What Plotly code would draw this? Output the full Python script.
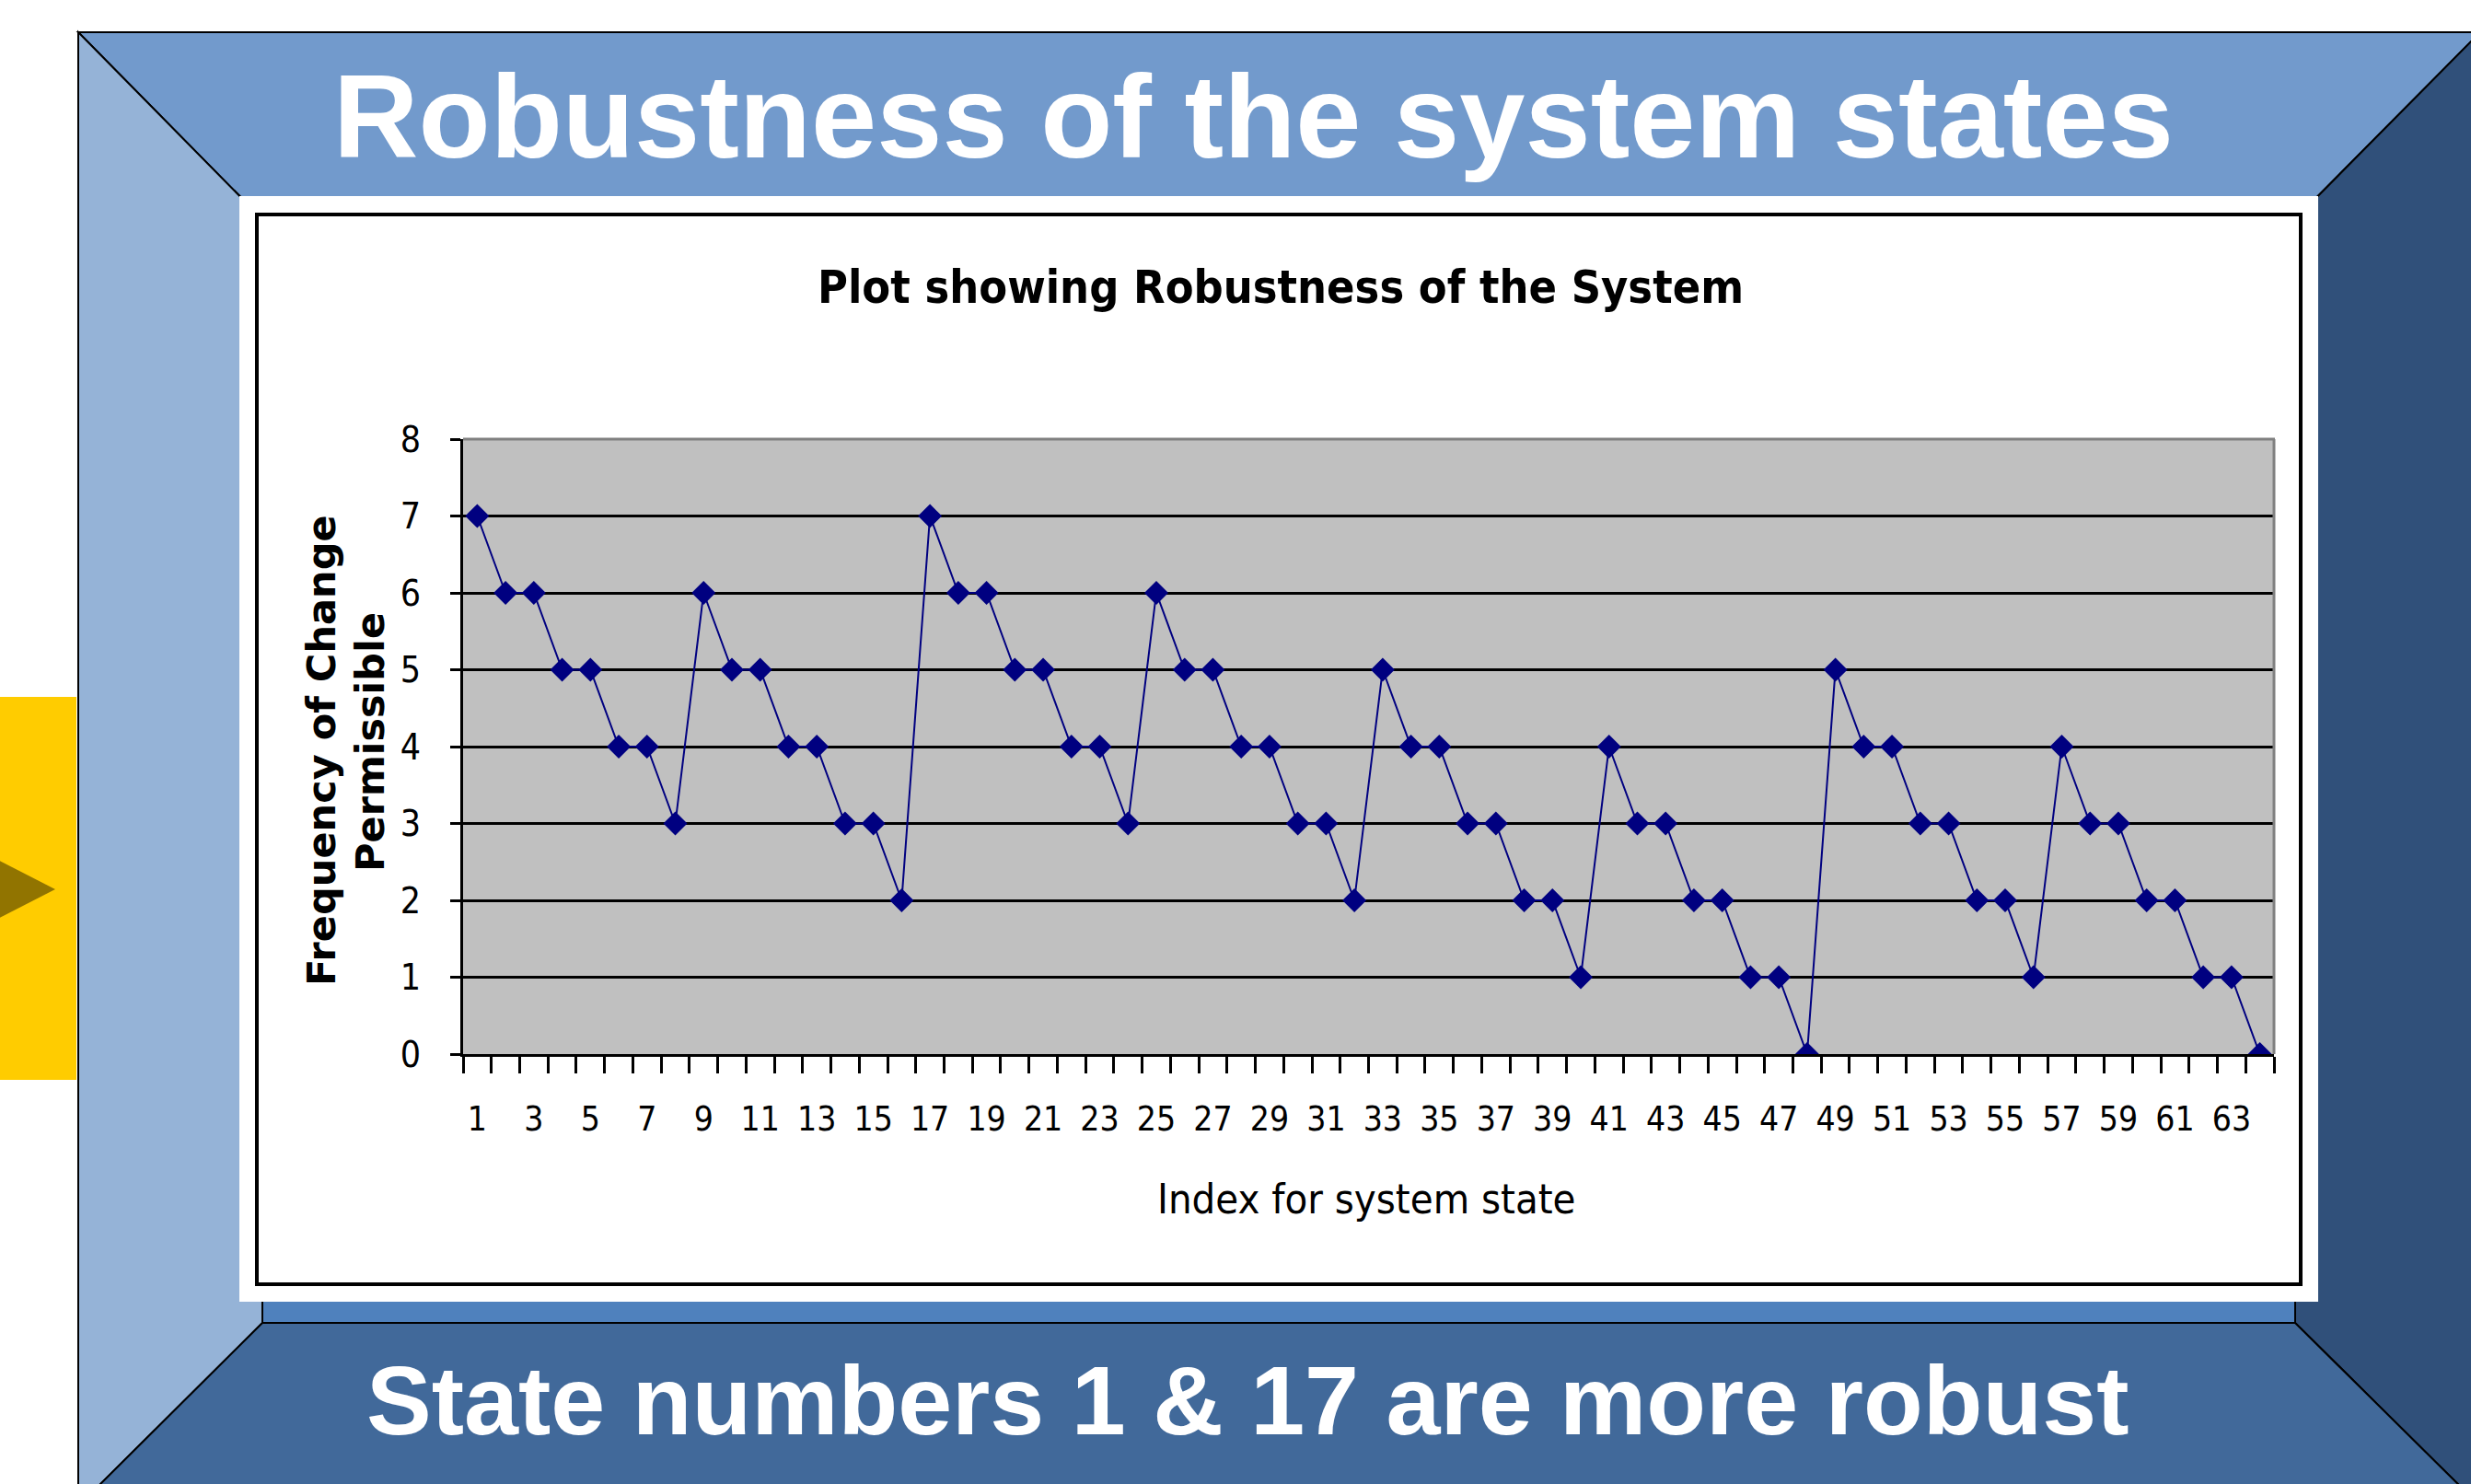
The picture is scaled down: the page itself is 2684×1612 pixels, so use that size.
import plotly.graph_objects as go

# ---------------- data ----------------
state_index = list(range(1, 65))
frequency = [7, 6, 6, 5, 5, 4, 4, 3, 6, 5, 5, 4, 4, 3, 3, 2,
             7, 6, 6, 5, 5, 4, 4, 3, 6, 5, 5, 4, 4, 3, 3, 2,
             5, 4, 4, 3, 3, 2, 2, 1, 4, 3, 3, 2, 2, 1, 1, 0,
             5, 4, 4, 3, 3, 2, 2, 1, 4, 3, 3, 2, 2, 1, 1, 0]
x_tick_values = list(range(1, 65, 2))
x_tick_labels = [str(v) for v in x_tick_values]
y_tick_values = [0, 1, 2, 3, 4, 5, 6, 7, 8]

slide_title = "Robustness of the system states"
slide_footer = "State numbers 1 &amp; 17 are more robust"
chart_title = "Plot showing Robustness of the System"
x_title = "Index for system state"
y_title_1 = "Frequency of Change"
y_title_2 = "Permissible"

# ---------------- geometry helpers ----------------
W, H = 2684, 1612


def px(x):
    return x / W


def py(y):
    return 1 - y / H


def poly(points):
    s = "M " + " L ".join(f"{px(x):.5f},{py(y):.5f}" for x, y in points) + " Z"
    return s


NARROW = "Liberation Sans Narrow, DejaVu Sans Condensed, Liberation Sans, Arial, sans-serif"

# plot area (pixels)
PL, PR, PT, PB = 503, 2470, 477, 1145

fig = go.Figure()
fig.add_trace(go.Scatter(
    x=state_index, y=frequency, mode="lines+markers",
    line=dict(color="#000080", width=2),
    marker=dict(symbol="diamond", size=20, color="#000080", line=dict(width=0)),
    showlegend=False, hoverinfo="x+y",
))

shapes = []
# frame: outer (85,35)-(2694,1636), inner (285,238)-(2493,1437)
OL, OT, OR, OB = 85, 35, 2694, 1636
IL, IT, IR, IB = 285, 238, 2493, 1437
shapes.append(dict(type="rect", xref="paper", yref="paper", x0=px(IL), x1=px(IR), y0=py(IB), y1=py(IT),
                   fillcolor="#4F81BD", line=dict(width=0), layer="below"))
for pts, col in [
    ([(OL, OT), (OR, OT), (IR, IT), (IL, IT)], "#729ACC"),
    ([(OL, OT), (IL, IT), (IL, IB), (OL, OB)], "#95B3D7"),
    ([(OR, OT), (OR, OB), (IR, IB), (IR, IT)], "#30507A"),
    ([(OL, OB), (IL, IB), (IR, IB), (OR, OB)], "#41699A"),
]:
    shapes.append(dict(type="path", xref="paper", yref="paper", path=poly(pts),
                       fillcolor=col, line=dict(color="black", width=2), layer="below"))
# white picture panel
shapes.append(dict(type="rect", xref="paper", yref="paper", x0=px(260), x1=px(2518), y0=py(1414), y1=py(213),
                   fillcolor="white", line=dict(width=0), layer="below"))
# chart border
shapes.append(dict(type="rect", xref="paper", yref="paper", x0=px(279), x1=px(2499), y0=py(1395), y1=py(233),
                   fillcolor="white", line=dict(color="black", width=4), layer="below"))
# plot area background
shapes.append(dict(type="rect", xref="paper", yref="paper", x0=px(PL), x1=px(PR), y0=py(PB), y1=py(PT),
                   fillcolor="#C0C0C0", line=dict(width=0), layer="below"))
# top and right plot border (gray)
shapes.append(dict(type="line", xref="paper", yref="paper", x0=px(PL), x1=px(PR + 1), y0=py(PT), y1=py(PT),
                   line=dict(color="#808080", width=3), layer="above"))
shapes.append(dict(type="line", xref="paper", yref="paper", x0=px(PR), x1=px(PR), y0=py(PT), y1=py(PB),
                   line=dict(color="#808080", width=3), layer="above"))
# yellow side box and arrow
shapes.append(dict(type="rect", xref="paper", yref="paper", x0=px(-5), x1=px(83), y0=py(1173), y1=py(757),
                   fillcolor="#FFCC00", line=dict(width=0), layer="below"))
shapes.append(dict(type="path", xref="paper", yref="paper",
                   path=poly([(-10, 930), (60, 966), (-10, 1002)]),
                   fillcolor="#917400", line=dict(width=0), layer="below"))

annotations = [
    dict(text=f"<b>{slide_title}</b>", x=px(1361), y=py(126), xref="paper", yref="paper",
         showarrow=False, xanchor="center", yanchor="middle",
         font=dict(family="Liberation Sans, Arial, sans-serif", size=128, color="white")),
    dict(text=f"<b>{slide_footer}</b>", x=px(1356), y=py(1521), xref="paper", yref="paper",
         showarrow=False, xanchor="center", yanchor="middle",
         font=dict(family="Liberation Sans, Arial, sans-serif", size=106, color="white")),
    dict(text=f"<b>{chart_title}</b>", x=px(1391), y=py(312), xref="paper", yref="paper",
         showarrow=False, xanchor="center", yanchor="middle",
         font=dict(family=NARROW, size=50, color="black")),
    dict(text=x_title, x=px(1484), y=py(1302), xref="paper", yref="paper",
         showarrow=False, xanchor="center", yanchor="middle",
         font=dict(family=NARROW, size=45, color="black")),
    dict(text=f"<b>{y_title_1}</b>", x=px(349), y=py(815), xref="paper", yref="paper",
         showarrow=False, xanchor="center", yanchor="middle", textangle=-90,
         font=dict(family="DejaVu Sans, sans-serif", size=43, color="black")),
    dict(text=f"<b>{y_title_2}</b>", x=px(402), y=py(806), xref="paper", yref="paper",
         showarrow=False, xanchor="center", yanchor="middle", textangle=-90,
         font=dict(family="DejaVu Sans, sans-serif", size=43, color="black")),
]

fig.update_layout(
    width=W, height=H,
    margin=dict(l=0, r=0, t=0, b=0, pad=0),
    paper_bgcolor="white",
    plot_bgcolor="rgba(0,0,0,0)",
    shapes=shapes,
    annotations=annotations,
    showlegend=False,
    xaxis=dict(
        domain=[px(PL), px(PR)], range=[0.5, 64.5], automargin=False,
        tickmode="array", tickvals=x_tick_values, ticktext=x_tick_labels,
        ticks="outside", ticklen=18, tickwidth=3, tickcolor="rgba(0,0,0,0)",
        ticklabelstandoff=18,
        tickfont=dict(family=NARROW, size=37, color="black"),
        minor=dict(tickmode="array", tickvals=[v + 0.5 for v in range(0, 65)],
                   ticks="outside", ticklen=18, tickwidth=3, tickcolor="black", showgrid=False),
        showline=True, linecolor="black", linewidth=3,
        showgrid=False, zeroline=False,
    ),
    yaxis=dict(
        domain=[py(PB), py(PT)], range=[0, 8], automargin=False,
        tickmode="array", tickvals=y_tick_values,
        ticks="outside", ticklen=11, tickwidth=3, tickcolor="black",
        ticklabelstandoff=24,
        tickfont=dict(family=NARROW, size=39, color="black"),
        showline=True, linecolor="black", linewidth=3,
        showgrid=True, gridcolor="black", gridwidth=2.5, zeroline=False,
    ),
)

fig.write_html("out.html")
